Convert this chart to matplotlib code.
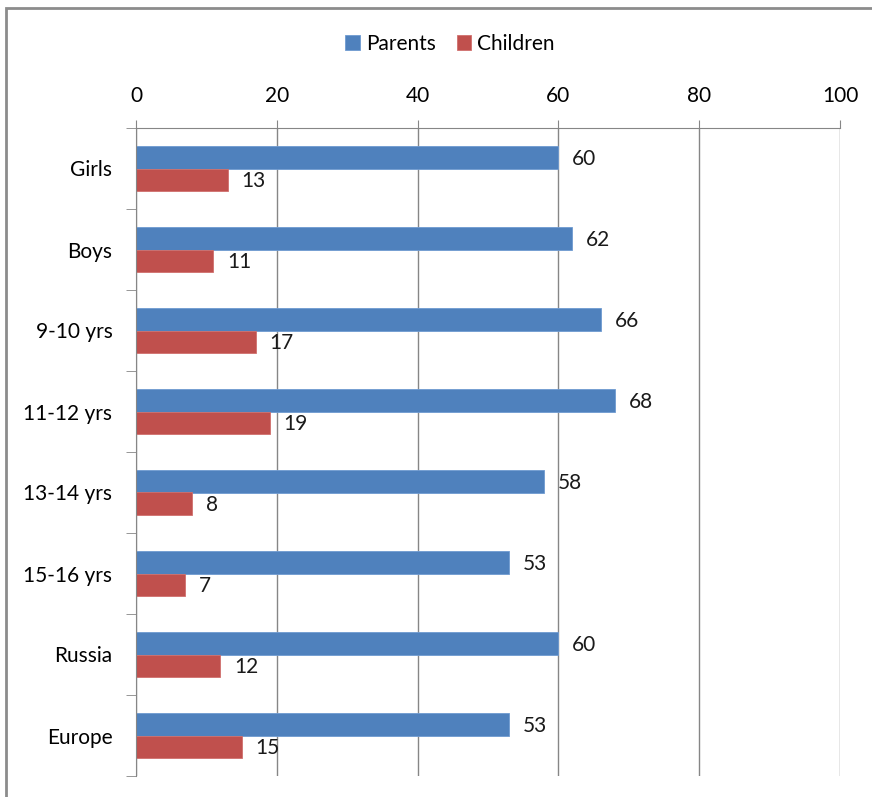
import numpy as np
import matplotlib.pyplot as plt
from matplotlib.patches import Rectangle

categories = ['Girls', 'Boys', '9-10 yrs', '11-12 yrs', '13-14 yrs', '15-16 yrs', 'Russia', 'Europe']
parents = [60, 62, 66, 68, 58, 53, 60, 53]
children = [13, 11, 17, 19, 8, 7, 12, 15]
xticks = [0, 20, 40, 60, 80, 100]

blue = '#4F81BD'
red = '#C0504D'
grey = '#868686'
fs = 15

plt.rcParams['font.family'] = ['Lato', 'DejaVu Sans']

fig = plt.figure(figsize=(8.72, 7.97), dpi=100)
ax = fig.add_axes([136/872, 1 - 776/797, (840 - 136)/872, (776 - 128)/797])

# outer chart frame (runs off the right and bottom of the picture)
fig.patches.append(Rectangle((6/872, -0.1), 1.2, 1 - 8/797 + 0.1, transform=fig.transFigure,
                             fill=False, edgecolor='#8c8c8c', linewidth=2))

y = np.arange(len(categories))
h = 0.28
bp = ax.barh(y - h/2, parents, height=h, color=blue, edgecolor='#6f9bd1', linewidth=0.6, label='Parents')
bc = ax.barh(y + h/2, children, height=h, color=red, edgecolor='#d0706d', linewidth=0.6, label='Children')

for bars, vals in ((bp, parents), (bc, children)):
    for b, v in zip(bars, vals):
        ax.annotate(str(v), (v, b.get_y() + b.get_height()/2), xytext=(10, -1),
                    textcoords='offset points', va='center', ha='left', fontsize=fs, color='#1a1a1a')

ax.set_xlim(0, 100)
ax.set_ylim(len(categories) - 0.5, -0.5)
ax.xaxis.tick_top()
ax.set_xticks(xticks)
ax.set_xticklabels([str(t) for t in xticks], fontsize=fs)
ax.set_yticks(y)
ax.set_yticklabels(categories, fontsize=fs)
ax.set_yticks(np.arange(len(categories) + 1) - 0.5, minor=True)
ax.tick_params(axis='y', which='major', length=0, pad=17)
ax.tick_params(axis='y', which='minor', length=7, color=grey, direction='out')
ax.tick_params(axis='x', length=6, color=grey, direction='out', pad=10)
ax.grid(axis='x', color=grey, linewidth=1)
ax.set_axisbelow(True)
for s in ['bottom', 'right']:
    ax.spines[s].set_visible(False)
for s in ['top', 'left']:
    ax.spines[s].set_color(grey)

fig.legend(handles=[bp, bc], loc='center', bbox_to_anchor=(450/872, 1 - 44/797), ncol=2,
           frameon=False, fontsize=fs, handlelength=0.7, handleheight=0.7,
           handletextpad=0.3, columnspacing=1.0)

fig.savefig('out.png', dpi=100)
